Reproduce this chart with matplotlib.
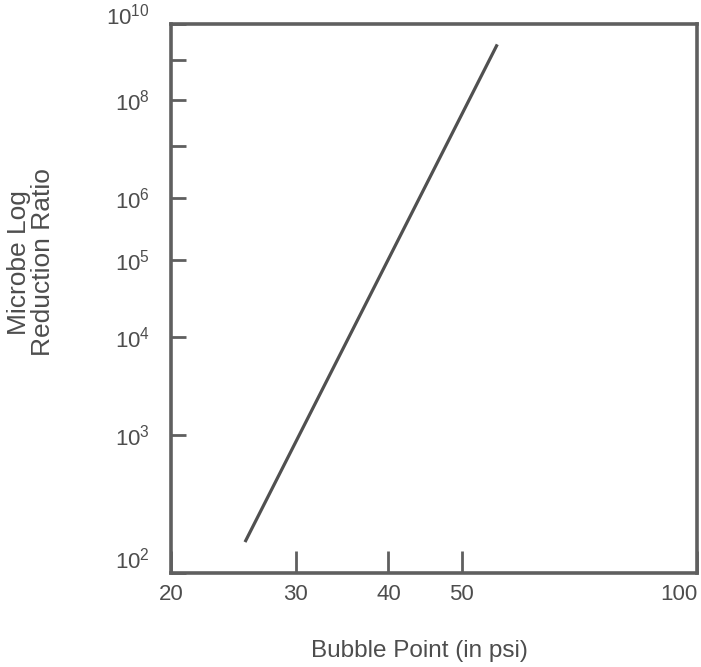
import numpy as np
import matplotlib
matplotlib.use("Agg")
import matplotlib.pyplot as plt
from matplotlib.ticker import FixedLocator, FuncFormatter, NullLocator

plt.rcParams['font.family'] = ['Liberation Sans', 'DejaVu Sans']
plt.rcParams['mathtext.fontset'] = 'custom'
plt.rcParams['mathtext.rm'] = 'Liberation Sans'
plt.rcParams['mathtext.it'] = 'Liberation Sans:italic'
plt.rcParams['mathtext.bf'] = 'Liberation Sans:bold'

# Data
bubble_point = [25.5, 55.6]          # psi
log_reduction = [2.19, 9.42]         # exponent n of reduction ratio 10^n
x_ticks = [20, 30, 40, 50, 100]
y_ticks = [2, 3, 4, 5, 6, 7, 8, 9, 10]
y_labeled = [2, 3, 4, 5, 6, 8, 10]

TEXT = '#4d4d4d'
SPINE = '#5f5f5f'
LINE = '#505050'

fig = plt.figure(figsize=(7.01, 6.67), dpi=100)
ax = fig.add_axes([0.2439, 0.1409, 0.9943 - 0.2439, 0.964 - 0.1409])

ax.plot(bubble_point, log_reduction, color=LINE, lw=2.3, solid_capstyle='butt')

# x axis: log-like scale as drawn in the original
ax.set_xscale('function', functions=(lambda v: np.log10(np.asarray(v) + 4.0),
                                     lambda v: 10 ** np.asarray(v) - 4.0))
ax.set_xlim(20, 100)
ax.xaxis.set_major_locator(FixedLocator(x_ticks))
ax.xaxis.set_minor_locator(NullLocator())
ax.xaxis.set_major_formatter(FuncFormatter(lambda v, p: f'{v:g}'))

# y axis: log of the exponent
ax.set_yscale('log')
ax.set_ylim(2, 10)
ax.yaxis.set_major_locator(FixedLocator(y_ticks))
ax.yaxis.set_minor_locator(NullLocator())
ax.yaxis.set_major_formatter(FuncFormatter(
    lambda v, p: (r'$\mathregular{10^{%d}}$' % round(v)) if round(v) in y_labeled else ''))

ax.tick_params(axis='x', direction='in', length=16, width=2, color=SPINE,
               labelsize=16, labelcolor=TEXT, pad=8)
ax.tick_params(axis='y', direction='in', length=11, width=2, color=SPINE,
               labelsize=16, labelcolor=TEXT, pad=15)

for s in ax.spines.values():
    s.set_color(SPINE)
    s.set_linewidth(2.6)

for lab in ax.get_xticklabels():
    if lab.get_text() == '100':
        lab.set_ha('right')
for lab in ax.get_yticklabels():
    if '{2}' in lab.get_text():
        lab.set_va('bottom')
    elif '{10}' in lab.get_text():
        lab.set_va('baseline')

ax.set_xlabel('Bubble Point (in psi)', fontsize=17.5, color=TEXT)
ax.set_ylabel('Microbe Log\nReduction Ratio', fontsize=19, color=TEXT,
              linespacing=1.0)
ax.yaxis.set_label_coords(-0.221, 0.566)
ax.xaxis.set_label_coords(0.473, -0.122)

fig.savefig('out.png', dpi=100)
